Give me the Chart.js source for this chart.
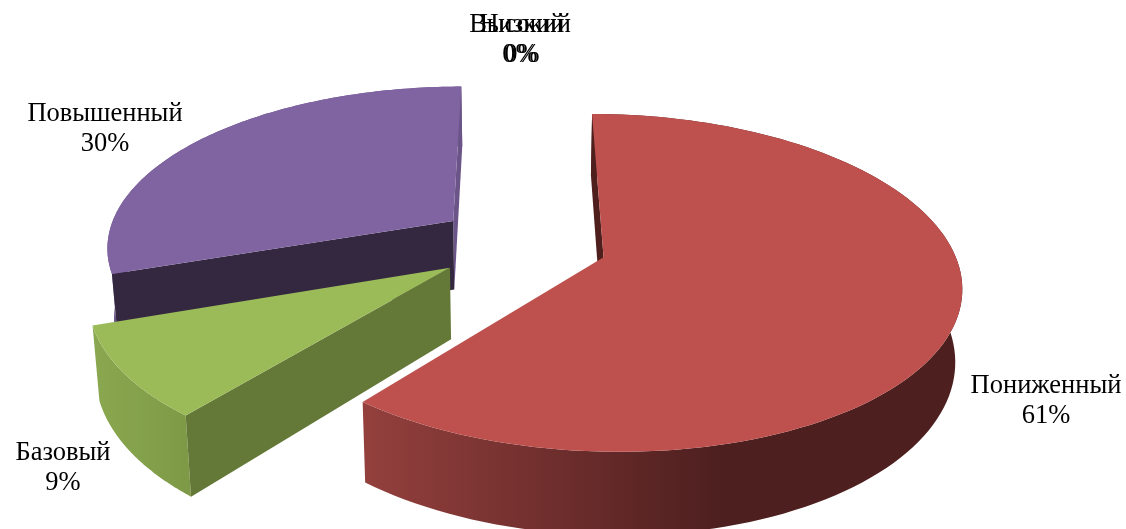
<!DOCTYPE html>
<html lang="ru">
<head>
<meta charset="utf-8">
<title>Уровни</title>
<script src="https://cdn.jsdelivr.net/npm/chart.js@4"></script>
<style>
  html, body { margin: 0; padding: 0; background: #fff; overflow: hidden; }
  canvas { display: block; }
</style>
</head>
<body>
<canvas id="levelsPie" width="1126" height="529"></canvas>
<script>
// values (slice angles), labels round them
const categories = ["Низкий", "Пониженный", "Базовый", "Повышенный", "Высокий"];
const shares = [0, 60.9, 8.8, 30.3, 0];
const explode = [0, 57, 59, 59, 0];

const topColors = ["#4F81BD", "#BE504D", "#9BBB59", "#8064A2", "#4BACC6"];
const wallFrom = ["#000", "#94403D", "#8AA84F", "#6A5488", "#000"];
const wallTo = ["#000", "#4E1F1F", "#7E9A47", "#6A5488", "#000"];
const startWall = ["#000", "#4F1F1E", "#647837", "#332840", "#000"];
const endWall = ["#000", "#4F1F1E", "#647837", "#6A5488", "#000"];
const drawOrder = [3, 2, 1];

// label centres, two lines each
const labelX = [522, 1046, 63, 105, 520];
const labelY = [25, 386, 453, 114, 25];
const lineGap = 30.5;

// pie tilt, seen from above with some perspective
const view = { cx: 523, cy: 244, rx: 348, ry: 161, skew: -1, persp: 0.15, depth: 70, vanishX: 521, pinch: 0.016 };

function project(u, v, lower) {
  const w = 1 + view.persp * v;
  let x = view.cx + (view.rx * u + view.skew * v) / w;
  let y = view.cy - view.ry * v / w;
  if (lower) {
    y += view.depth / w;
    x += (view.vanishX - x) * view.pinch;
  }
  return [x, y];
}

function tracePoints(ctx, pts) {
  ctx.beginPath();
  pts.forEach(function (p, i) {
    if (i === 0) ctx.moveTo(p[0], p[1]);
    else ctx.lineTo(p[0], p[1]);
  });
  ctx.closePath();
}

// a cut face only shows when the top face does not lie on its downward side
function cutFaceShows(apex, corner, next) {
  const ex = corner[0] - apex[0];
  const ey = corner[1] - apex[1];
  const inner = ex * (next[1] - apex[1]) - ey * (next[0] - apex[0]);
  return inner * ex < 0;
}

function drawSlice(ctx, arc, i) {
  const opts = arc.options;
  const p = arc.getProps(["startAngle", "endAngle", "outerRadius"]);
  const mid = (p.startAngle + p.endAngle) / 2;
  const shift = opts.offset / p.outerRadius;
  const ou = Math.cos(mid) * shift;
  const ov = -Math.sin(mid) * shift;

  const rimAngles = [];
  const steps = 120;
  for (let s = 0; s <= steps; s++) {
    rimAngles.push(p.startAngle + (p.endAngle - p.startAngle) * s / steps);
  }
  const rim = function (lower) {
    return rimAngles.map(function (a) {
      return project(ou + Math.cos(a), ov - Math.sin(a), lower);
    });
  };
  const apexTop = project(ou, ov, false);
  const apexLow = project(ou, ov, true);
  const rimTop = rim(false);
  const rimLow = rim(true);

  // outer wall
  const xs = rimTop.map(function (q) { return q[0]; });
  const left = Math.min.apply(null, xs);
  const grad = ctx.createLinearGradient(left, 0, Math.min(left + 355, Math.max.apply(null, xs)), 0);
  grad.addColorStop(0, wallFrom[i]);
  grad.addColorStop(1, wallTo[i]);
  ctx.fillStyle = grad;
  tracePoints(ctx, rimTop.concat(rimLow.slice().reverse()));
  ctx.fill();

  // cut faces
  if (cutFaceShows(apexTop, rimTop[steps], rimTop[steps - 1])) {
    ctx.fillStyle = endWall[i];
    tracePoints(ctx, [apexTop, rimTop[steps], rimLow[steps], apexLow]);
    ctx.fill();
  }
  if (cutFaceShows(apexTop, rimTop[0], rimTop[1])) {
    ctx.fillStyle = startWall[i];
    tracePoints(ctx, [apexTop, rimTop[0], rimLow[0], apexLow]);
    ctx.fill();
  }

  // top face
  ctx.fillStyle = topColors[i];
  tracePoints(ctx, [apexTop].concat(rimTop));
  ctx.fill();
}

const pie3d = {
  id: "pie3d",
  beforeDatasetDraw: function (chart) {
    const ctx = chart.ctx;
    const arcs = chart.getDatasetMeta(0).data;
    ctx.save();
    drawOrder.forEach(function (i) {
      drawSlice(ctx, arcs[i], i);
    });
    ctx.restore();
    return false; // library's flat arcs are replaced by the tilted ones
  },
  afterDraw: function (chart) {
    const ctx = chart.ctx;
    ctx.save();
    ctx.font = '26.5px "Liberation Serif"';
    ctx.fillStyle = "#000";
    ctx.textAlign = "center";
    ctx.textBaseline = "middle";
    categories.forEach(function (name, i) {
      ctx.fillText(name, labelX[i], labelY[i]);
      ctx.fillText(Math.round(shares[i]) + "%", labelX[i], labelY[i] + lineGap);
    });
    ctx.restore();
  }
};

new Chart(document.getElementById("levelsPie"), {
  type: "pie",
  data: {
    labels: categories,
    datasets: [{ data: shares, backgroundColor: topColors, offset: explode, borderWidth: 0 }]
  },
  options: {
    responsive: false,
    animation: false,
    events: [],
    plugins: { legend: { display: false }, tooltip: { enabled: false } }
  },
  plugins: [pie3d]
});
</script>
</body>
</html>
